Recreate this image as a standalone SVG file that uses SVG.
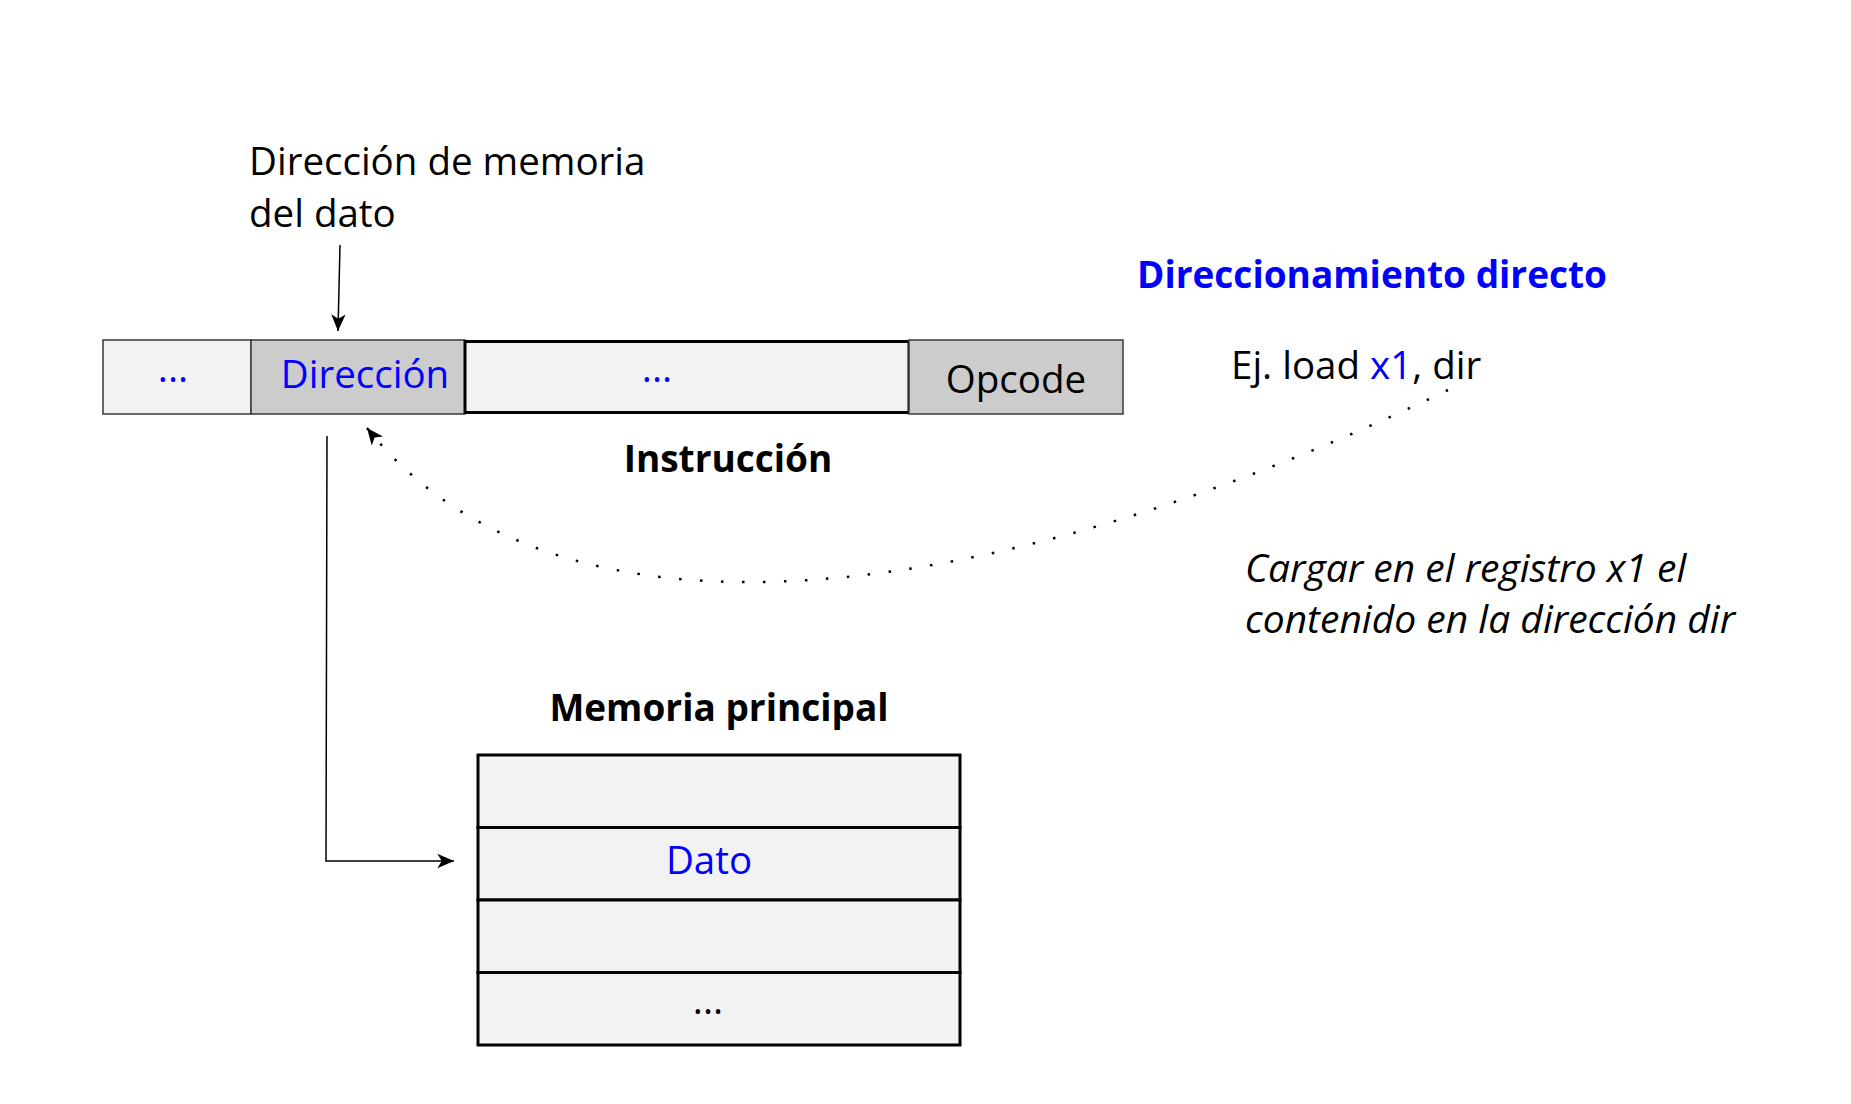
<svg xmlns="http://www.w3.org/2000/svg" width="1851" height="1104" viewBox="0 0 1851 1104">
<defs>
<style>
text{font-family:"Open Sans","Noto Sans","DejaVu Sans",sans-serif;font-size:38.5px;fill:#000}
.blue{fill:#0000ff}
.b{font-weight:bold;font-size:37px}
.i{font-style:italic;font-size:39px}
.c{text-anchor:middle}
.light{fill:#f2f2f2}
.dark{fill:#cccccc}
.thin{stroke:#36393d;stroke-width:1.5}
.thick{stroke:#000;stroke-width:3}
.conn{fill:none;stroke:#000;stroke-width:1.5}
</style>
<marker id="arr" markerUnits="userSpaceOnUse" markerWidth="20" markerHeight="20" viewBox="-16 -8 18 16" refX="0" refY="0" orient="auto">
<path d="M0,0 L-15,-6.5 L-11,0 L-15,6.5 Z" fill="#000"/>
</marker>
</defs>
<rect width="1851" height="1104" fill="#fff"/>

<g id="label-direccion-memoria">
<text x="249" y="175">Dirección de memoria</text>
<text x="249" y="227">del dato</text>
</g>

<g id="title">
<text x="1137" y="288" class="blue b">Direccionamiento directo</text>
</g>

<g id="example">
<text x="1231" y="379">Ej. load <tspan class="blue">x1</tspan>, dir</text>
</g>

<g id="instruction">
<g id="field-rest"><rect x="103" y="340" width="148" height="74" class="light thin"/><text x="173" y="382" class="blue c">...</text></g>
<g id="field-direccion"><rect x="251" y="340" width="214" height="74" class="dark thin"/><text x="365" y="388" class="blue c">Dirección</text></g>
<g id="field-mid"><rect x="465" y="341.5" width="444" height="71" class="light thick"/><text x="657" y="382" class="blue c">...</text></g>
<g id="field-opcode"><rect x="909" y="340" width="214" height="74" class="dark thin"/><text x="1016" y="393" class="c">Opcode</text></g>
</g>

<g id="instruction-label">
<text x="728" y="472" class="b c">Instrucción</text>
</g>

<g id="note">
<text x="1245" y="582" class="i">Cargar en el registro x1 el</text>
<text x="1245" y="633" class="i">contenido en la dirección dir</text>
</g>

<g id="memory-label">
<text x="719" y="721" class="b c">Memoria principal</text>
</g>

<g id="memory">
<rect x="478" y="755" width="482" height="72.5" class="light thick"/>
<g id="cell-dato"><rect x="478" y="827.5" width="482" height="72.5" class="light thick"/><text x="709" y="874" class="blue c">Dato</text></g>
<rect x="478" y="900" width="482" height="72.5" class="light thick"/>
<rect x="478" y="972.5" width="482" height="72.5" class="light thick"/>
<text x="708" y="1014" class="c">...</text>
</g>

<g id="connectors">
<path d="M340,245 L338,331" class="conn" marker-end="url(#arr)"/>
<path d="M327,436 L326,861 L454,861" class="conn" marker-end="url(#arr)"/>
<path d="M1448,390 C1008,601 561,672 367,428" fill="none" stroke="#000" stroke-width="2.5" stroke-dasharray="2.5 18.5" marker-end="url(#arr)"/>
</g>
</svg>
